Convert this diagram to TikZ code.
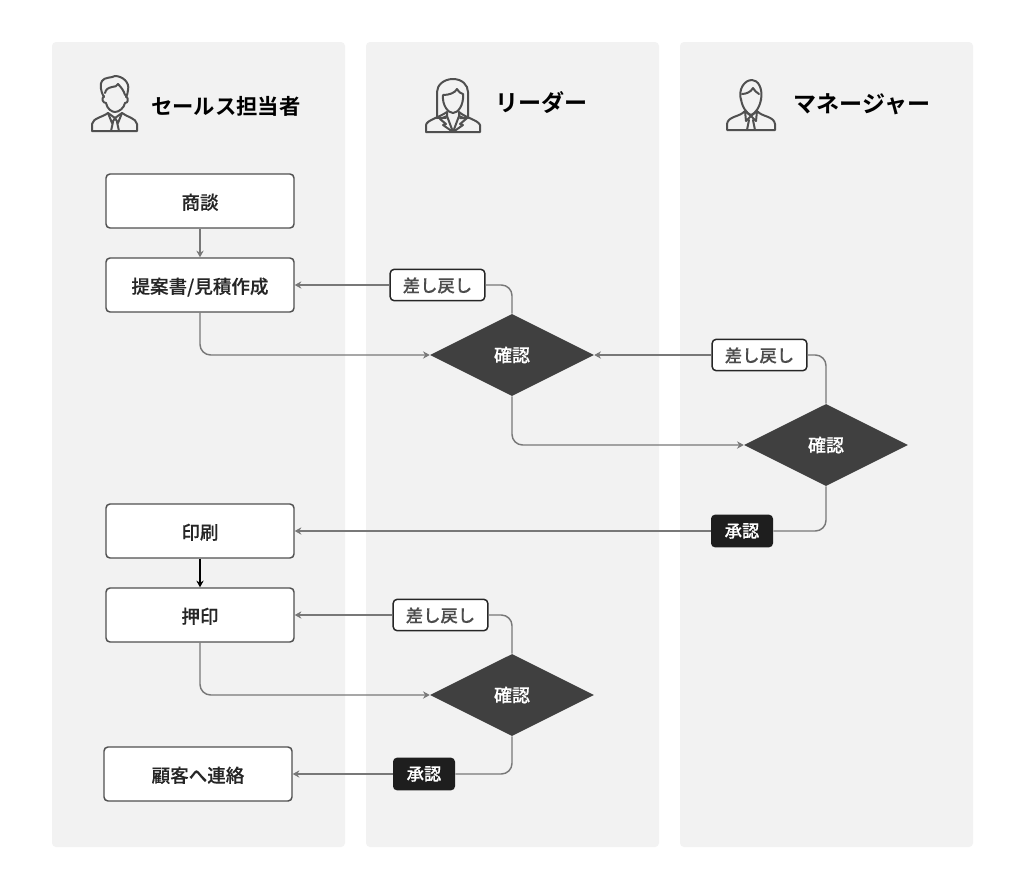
\documentclass[tikz,border=0pt]{standalone}
\usepackage{fontspec}
\setmainfont{Noto Sans CJK JP Medium}[FakeBold=0.2]
\newfontfamily\headfont{Noto Sans CJK JP Bold}
\usepackage{xcolor}
\usetikzlibrary{arrows.meta,calc,positioning,shapes.geometric}
\definecolor{laneGray}{HTML}{F2F2F2}
\definecolor{lineGray}{HTML}{787878}
\definecolor{diaGray}{HTML}{404040}
\definecolor{badgeBlack}{HTML}{1E1E1E}
\definecolor{iconGray}{HTML}{505050}
\tikzset{
  px/.style={x=0.75pt, y=-0.75pt},
  flow/.style={-{Stealth[length=5pt,width=5.5pt]}, line width=1.1pt, draw=lineGray},
  flow black/.style={-{Stealth[length=5pt,width=5.5pt]}, line width=1.1pt, draw=black},
  bend flow/.style={flow, rounded corners=8pt},
  plain flow/.style={line width=1.1pt, draw=lineGray, rounded corners=8pt},
  lane/.style={draw=none, fill=laneGray, rounded corners=3pt, minimum width=219.75pt,
    minimum height=603.75pt, inner sep=0pt},
  task box/.style={draw=iconGray, line width=1.1pt, fill=white, rounded corners=3pt,
    minimum width=141pt, minimum height=40.5pt, inner sep=0pt, text height=14pt, text depth=1.5pt,
    text=black!85, font=\fontsize{13.9}{15}\selectfont},
  back tag/.style={draw=black!85, line width=1.1pt, fill=white, rounded corners=3pt,
    minimum width=71pt, minimum height=23.5pt, inner sep=0pt, text=black!70, text height=12pt, text depth=1.5pt,
    font=\fontsize{13}{15}\selectfont},
  ok tag/.style={draw=none, fill=badgeBlack, rounded corners=3pt, text=white,
    minimum width=46.5pt, minimum height=24.5pt, inner sep=0pt, font=\fontsize{13}{15}\selectfont},
  check dia/.style={diamond, draw=none, fill=diaGray, text=white, aspect=2, inner sep=0pt,
    minimum width=123pt, minimum height=61.5pt, font=\fontsize{13.5}{15}\selectfont},
  lane head/.style={inner sep=0pt, text=black, font=\fontsize{16}{18}\selectfont\headfont},
  wide head/.style={lane head, font=\fontsize{17.3}{18}\selectfont\headfont},
  icon/.style={draw=iconGray, line width=1.5pt, line join=round, line cap=round}
}
\begin{document}
\begin{tikzpicture}[px]
  \useasboundingbox (0,0) rectangle (1024,890);
  \fill[white] (0,0) rectangle (1024,890);
  % lanes
  \node[lane] (lane1) at (198.5,444.5) {};
  \node[lane] (lane2) at (512.5,444.5) {};
  \node[lane] (lane3) at (826.5,444.5) {};
  % heads
  \node[lane head, anchor=west] (head1) at (151,106) {セールス担当者};
  \node[wide head, anchor=west] (head2) at (495.5,103) {リーダー};
  \node[wide head, anchor=west] (head3) at (793.5,104) {マネージャー};
  % icons
  \draw[icon] (104,97) .. controls (100,90) and (100,84) .. (102,81) .. controls (104,77) and (112,78) .. (115,76)
    .. controls (122,76) and (130,82) .. (128,90) .. controls (128,93) and (127,95) .. (126,97);
  \draw[icon] (105,93) .. controls (106,89) and (108,88) .. (112,87) .. controls (115,87) and (117,86) .. (118,84)
    .. controls (121,87) and (124,91) .. (125,95);
  \draw[icon] (104,96) .. controls (101,99) and (103,103) .. (106,103) .. controls (107,109) and (112,112) .. (115,112)
    .. controls (119,112) and (124,108) .. (125,103) .. controls (128,103) and (129,99) .. (126,96);
  \draw[icon] (92,131) -- (92,124) .. controls (93,118) and (103,117) .. (108,113) -- (115,118) -- (122,113)
    .. controls (127,117) and (136,118) .. (137,124) -- (137,131) -- cycle;
  \draw[icon] (108,113) -- (112,123) -- (115,118) -- (118,123) -- (122,113);
  \draw[icon] (113,122) -- (111,131) (117,122) -- (119,131);
  \draw[icon] (437,118) -- (437,92) .. controls (437,85) and (444,79) .. (453,79) .. controls (462,79) and (468,85) .. (468,92) -- (468,118) -- (460,118);
  \draw[icon] (437,118) -- (446,118);
  \draw[icon] (443,95) .. controls (449,95) and (455,93) .. (457,89) .. controls (459,92) and (461,94) .. (463,94)
    .. controls (464,105) and (458,113) .. (453,113) .. controls (448,113) and (442,105) .. (443,95);
  \draw[icon] (426,132) -- (426,125) .. controls (427,120) and (438,118) .. (447,112) -- (447,116) -- (453,132)
    -- (459,116) -- (459,112) .. controls (466,118) and (478,120) .. (480,125) -- (480,132) -- cycle;
  \draw[icon] (447,116) -- (440,119) -- (446,124) -- (443,125) -- (453,132) -- (463,125) -- (460,124) -- (466,119) -- (459,116);
  \draw[icon] (741,100) .. controls (738,90) and (744,80) .. (752,80) .. controls (758,80) and (763,88) .. (761,100);
  \draw[icon] (742,94) .. controls (746,94) and (751,92) .. (753,88) .. controls (755,91) and (757,93) .. (759,94);
  \draw[icon] (741,99) .. controls (742,107) and (747,114) .. (751,115) .. controls (755,114) and (760,107) .. (761,99);
  \draw[icon] (727,130) -- (727,124) .. controls (728,116) and (740,117) .. (745,111) -- (751,116) -- (757,111)
    .. controls (762,117) and (774,116) .. (775,124) -- (775,130) -- cycle;
  \draw[icon] (745,111) -- (746,121) -- (751,116) -- (756,121) -- (757,111);
  \draw[icon] (749,120) -- (747,130) (753,120) -- (755,130);
  % tasks
  \node[task box] (talk) at (200,201) {商談};
  \node[task box] (offer) at (200,285) {提案書/見積作成};
  \node[task box] (print) at (200,531) {印刷};
  \node[task box] (seal) at (200,615) {押印};
  \node[task box] (contact) at (198,774) {顧客へ連絡};
  % checks
  \node[check dia] (check1) at (512,355) {確認};
  \node[check dia] (check2) at (826,445) {確認};
  \node[check dia] (check3) at (512,695) {確認};
  % tags
  \node[back tag] (back1) at (437.5,285) {差し戻し};
  \node[back tag] (back2) at (759.5,355) {差し戻し};
  \node[back tag] (back3) at (440.5,615) {差し戻し};
  \node[ok tag] (ok1) at (742,531) {承認};
  \node[ok tag] (ok2) at (424,774) {承認};
  % arrows
  \draw[flow] (talk) -- (offer);
  \draw[flow black] (print) -- (seal);
  \draw[bend flow] (offer.south) |- (check1.west);
  \draw[plain flow] (check1.north) |- (back1.east);
  \draw[flow] (back1) -- (offer);
  \draw[bend flow] (check1.south) |- (check2.west);
  \draw[plain flow] (check2.north) |- (back2.east);
  \draw[flow] (back2) -- (check1);
  \draw[plain flow] (check2.south) |- (ok1.east);
  \draw[flow] (ok1) -- (print);
  \draw[bend flow] (seal.south) |- (check3.west);
  \draw[plain flow] (check3.north) |- (back3.east);
  \draw[flow] (back3) -- (seal);
  \draw[plain flow] (check3.south) |- (ok2.east);
  \draw[flow] (ok2) -- (contact);
\end{tikzpicture}
\end{document}
